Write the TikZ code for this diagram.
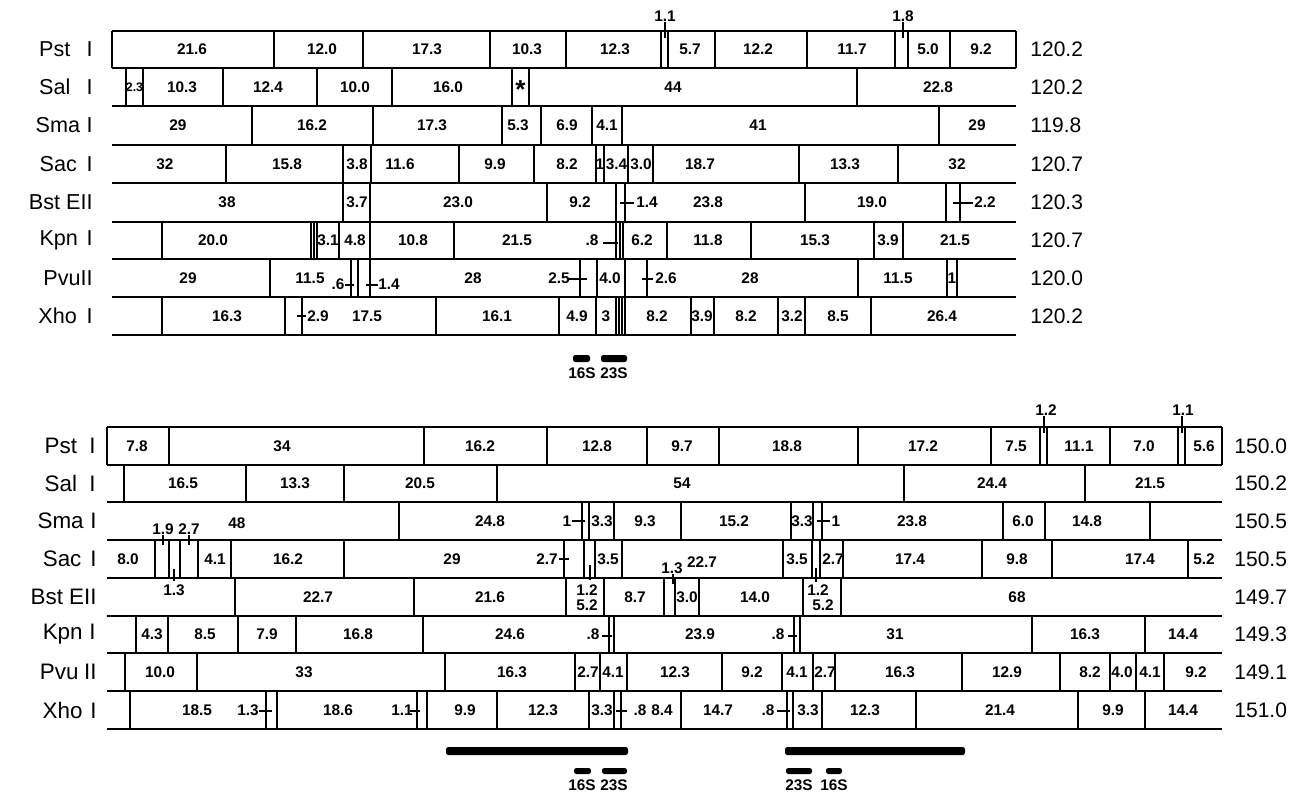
\documentclass[tikz,border=0pt]{standalone}
\usepackage{fontspec}
\setmainfont{Liberation Sans}
\newcommand\maprow[4]{%
  \foreach \xx in {#3} {\draw[vl] (\xx,#1) -- (\xx,#2);}
  \foreach \xx/\lbl in {#4} {\node[num] at (\xx,{(#1+#2)/2}) {\lbl};}
}
\begin{document}
\begin{tikzpicture}[x=0.5pt,y=-0.5pt,
  hl/.style={line width=1.3pt},
  vl/.style={line width=1.05pt},
  num/.style={font=\bfseries\fontsize{7.7}{8.5}\selectfont,inner sep=0pt},
  lab/.style={font=\fontsize{10.8}{12}\selectfont,anchor=east,inner sep=0pt},
  blab/.style={font=\fontsize{11.2}{13}\selectfont,anchor=east,inner sep=0pt},
  tot/.style={font=\fontsize{10.5}{12}\selectfont,anchor=west,inner sep=0pt},
  rbar/.style={fill=black,rounded corners=1.2pt}]
\useasboundingbox (0,0) rectangle (1301,794);

% ================= TOP PANEL =================
\foreach \yy in {31,68,106,145,183,222,259,297,335} {\draw[hl] (112,\yy) -- (1016,\yy);}
\draw[vl] (112,31) -- (112,68);
\draw[vl] (1016,31) -- (1016,68);

\node[lab] (tl1) at (93,49.5) {Pst\hspace{0.75em}I};
\node[lab] (tl2) at (93,87) {Sal\hspace{0.75em}I};
\node[lab] (tl3) at (93,125.5) {Sma\hspace{0.3em}I};
\node[lab] (tl4) at (93,164) {Sac\hspace{0.45em}I};
\node[lab] (tl5) at (93,202.5) {Bst EII};
\node[lab] (tl6) at (93,240.5) {Kpn\hspace{0.4em}I};
\node[lab] (tl7) at (93,278) {PvuII};
\node[lab] (tl8) at (93,316) {Xho\hspace{0.45em}I};

\node[tot] (tt1) at (1030,49.5) {120.2};
\node[tot] (tt2) at (1030,87) {120.2};
\node[tot] (tt3) at (1030,125.5) {119.8};
\node[tot] (tt4) at (1030,164) {120.7};
\node[tot] (tt5) at (1030,202.5) {120.3};
\node[tot] (tt6) at (1030,240.5) {120.7};
\node[tot] (tt7) at (1030,278) {120.0};
\node[tot] (tt8) at (1030,316) {120.2};

\maprow{31}{68}{274,363,490,566,661,668,715,807,895,908,950}
  {192/21.6,322/12.0,427/17.3,527/10.3,615/12.3,690/5.7,758/12.2,852/11.7,928/5.0,981/9.2}
\draw[vl] (665,22) -- (665,38);
\node[num] (t11) at (665,16) {1.1};
\draw[vl] (903,22) -- (903,38);
\node[num] (t18) at (903,16) {1.8};

\maprow{68}{106}{126,143,223,317,392,512,529,857}
  {182/10.3,268/12.4,355/10.0,448/16.0,673/44,938/22.8}
\node[num,font=\bfseries\fontsize{6.2}{7}\selectfont] (t23) at (134.5,87) {2.3};
\node[num,font=\bfseries\fontsize{13}{14}\selectfont] (tast) at (520.5,90) {*};

\maprow{106}{145}{252,373,502,541,592,622,939}
  {178/29,312/16.2,432/17.3,518/5.3,567/6.9,607/4.1,758/41,977/29}

\maprow{145}{183}{226,343,371,459,534,596,604,628,653,799,898}
  {165/32,287/15.8,357/3.8,400/11.6,495/9.9,567/8.2,600/1,616.5/3.4,641/3.0,700/18.7,845/13.3,957/32}

\maprow{183}{222}{343,370,547,616,625,805,946,960}
  {227/38,357/3.7,458/23.0,580/9.2,647/1.4,708/23.8,872/19.0,985/2.2}
\draw[vl] (620,203) -- (634,203);
\draw[vl] (953,203) -- (973,203);

\maprow{222}{259}{162,311,314,317,339,370,454,616,620,623,667,751,874,903}
  {213/20.0,328/3.1,355/4.8,413/10.8,517/21.5,592/.8,642/6.2,708/11.8,815/15.3,888/3.9,955/21.5}
\draw[vl] (603,243) -- (618,243);

\maprow{259}{297}{270,351,358,370,580,597,625,647,858,947,957}
  {188/29,310/11.5,473/28,559/2.5,610/4.0,666/2.6,750/28,898/11.5,952/1}
\node[num] (tp6) at (338,284) {.6};
\node[num] (tp14) at (389,284) {1.4};
\draw[vl] (345,285) -- (354,285);
\draw[vl] (366,285) -- (378,285);
\draw[vl] (569,279) -- (587,279);
\draw[vl] (642,279) -- (653,279);

\maprow{297}{335}{162,285,302,436,559,596,616,619,622,625,691,714,778,805,871}
  {227/16.3,318/2.9,367/17.5,497/16.1,577/4.9,606/3,657/8.2,702/3.9,746/8.2,792/3.2,838/8.5,942/26.4}
\draw[vl] (297,316) -- (306,316);

\fill[rbar] (573,355) rectangle (590,362);
\fill[rbar] (601,355) rectangle (627,362);
\node[num] (t16s) at (582,373) {16S};
\node[num] (t23s) at (614,373) {23S};

% ================= BOTTOM PANEL =================
\foreach \yy in {427,465,502,540,578,616,653,691,729} {\draw[hl] (107,\yy) -- (1222,\yy);}
\draw[vl] (107,427) -- (107,465);
\draw[vl] (1222,427) -- (1222,465);

\node[blab] (bl1) at (96,446) {Pst\hspace{0.55em}I};
\node[blab] (bl2) at (96,483.5) {Sal\hspace{0.55em}I};
\node[blab] (bl3) at (97,521) {Sma\hspace{0.3em}I};
\node[blab] (bl4) at (97,559) {Sac\hspace{0.4em}I};
\node[blab] (bl5) at (97,597) {Bst EII};
\node[blab] (bl6) at (96,634.5) {Kpn\hspace{0.3em}I};
\node[blab] (bl7) at (97,672) {Pvu\hspace{0.25em}II};
\node[blab] (bl8) at (97,710) {Xho\hspace{0.35em}I};

\node[tot] (bt1) at (1234,446) {150.0};
\node[tot] (bt2) at (1234,483.5) {150.2};
\node[tot] (bt3) at (1234,521) {150.5};
\node[tot] (bt4) at (1234,559) {150.5};
\node[tot] (bt5) at (1234,597) {149.7};
\node[tot] (bt6) at (1234,634.5) {149.3};
\node[tot] (bt7) at (1234,672) {149.1};
\node[tot] (bt8) at (1234,710) {151.0};

\maprow{427}{465}{169,424,547,647,719,858,991,1040,1047,1110,1178,1185}
  {137/7.8,282/34,480/16.2,597/12.8,682/9.7,787/18.8,923/17.2,1016/7.5,1079/11.1,1144/7.0,1204/5.6}
\draw[vl] (1044,416) -- (1044,433);
\node[num] (b12) at (1046,410) {1.2};
\draw[vl] (1182,416) -- (1182,433);
\node[num] (b11) at (1183,410) {1.1};

\maprow{465}{502}{124,246,344,497,904,1085}
  {183/16.5,295/13.3,420/20.5,682/54,992/24.4,1150/21.5}

\maprow{502}{540}{399,582,589,614,681,791,813,822,1003,1045,1150}
  {490/24.8,567/1,602/3.3,645/9.3,734/15.2,802/3.3,836/1,912/23.8,1023/6.0,1087/14.8}
\node[num] (b48) at (237,523) {48};
\draw[vl] (572,521) -- (585,521);
\draw[vl] (817,521) -- (830,521);
\node[num] (b19) at (163,529) {1.9};
\draw[vl] (163,535) -- (163,545);
\node[num] (b27) at (189,529) {2.7};
\draw[vl] (189,535) -- (189,545);

\maprow{540}{578}{155,169,180,198,231,344,564,584,595,622,783,812,820,843,982,1052,1188}
  {128/8.0,215/4.1,288/16.2,452/29,547/2.7,608/3.5,797/3.5,833/2.7,910/17.4,1017/9.8,1140/17.4,1204/5.2}
\node[num] (b227) at (702,562) {22.7};
\draw[vl] (559,559) -- (569,559);
\node[num] (b13b) at (672,568) {1.3};
\draw[vl] (673,574) -- (673,584);

\maprow{578}{616}{235,414,566,604,664,675,699,803,841}
  {318/22.7,490/21.6,635/8.7,687/3.0,755/14.0,1017/68}
\draw[vl] (174,569) -- (174,581);
\node[num] (b13a) at (174,590) {1.3};
\draw[vl] (590,565) -- (590,580);
\node[num] (b12a) at (587,590) {1.2};
\node[num] (b52a) at (587,605) {5.2};
\draw[vl] (816,568) -- (816,582);
\node[num] (b12b) at (818,590) {1.2};
\node[num] (b52b) at (823,605) {5.2};

\maprow{616}{653}{136,168,238,296,423,609,614,794,800,1032,1145}
  {152/4.3,205/8.5,267/7.9,358/16.8,510/24.6,593/.8,700/23.9,778/.8,895/31,1085/16.3,1183/14.4}
\draw[vl] (602,636) -- (612,636);
\draw[vl] (788,636) -- (797,636);

\maprow{653}{691}{125,197,445,575,600,627,722,782,813,835,962,1060,1110,1136,1164}
  {160/10.0,304/33,512/16.3,588/2.7,613/4.1,675/12.3,752/9.2,797/4.1,825/2.7,900/16.3,1007/12.9,1090/8.2,1122/4.0,1150/4.1,1196/9.2}

\maprow{691}{729}{130,266,277,417,427,497,589,614,621,681,787,793,822,916,1078,1145}
  {197/18.5,248/1.3,338/18.6,402/1.1,465/9.9,543/12.3,602/3.3,640/.8,662/8.4,718/14.7,768/.8,808/3.3,865/12.3,1000/21.4,1113/9.9,1183/14.4}
\draw[vl] (259,711) -- (272,711);
\draw[vl] (410,711) -- (420,711);
\draw[vl] (616,711) -- (627,711);
\draw[vl] (777,711) -- (790,711);

\fill[rbar] (446,747) rectangle (628,755);
\fill[rbar] (785,747) rectangle (965,755);
\fill[rbar] (574,768) rectangle (591,774);
\fill[rbar] (602,768) rectangle (627,774);
\fill[rbar] (786,768) rectangle (812,774);
\fill[rbar] (826,768) rectangle (842,774);
\node[num] (b16s1) at (582,785) {16S};
\node[num] (b23s1) at (614,785) {23S};
\node[num] (b23s2) at (799,785) {23S};
\node[num] (b16s2) at (834,785) {16S};
\end{tikzpicture}
\end{document}
